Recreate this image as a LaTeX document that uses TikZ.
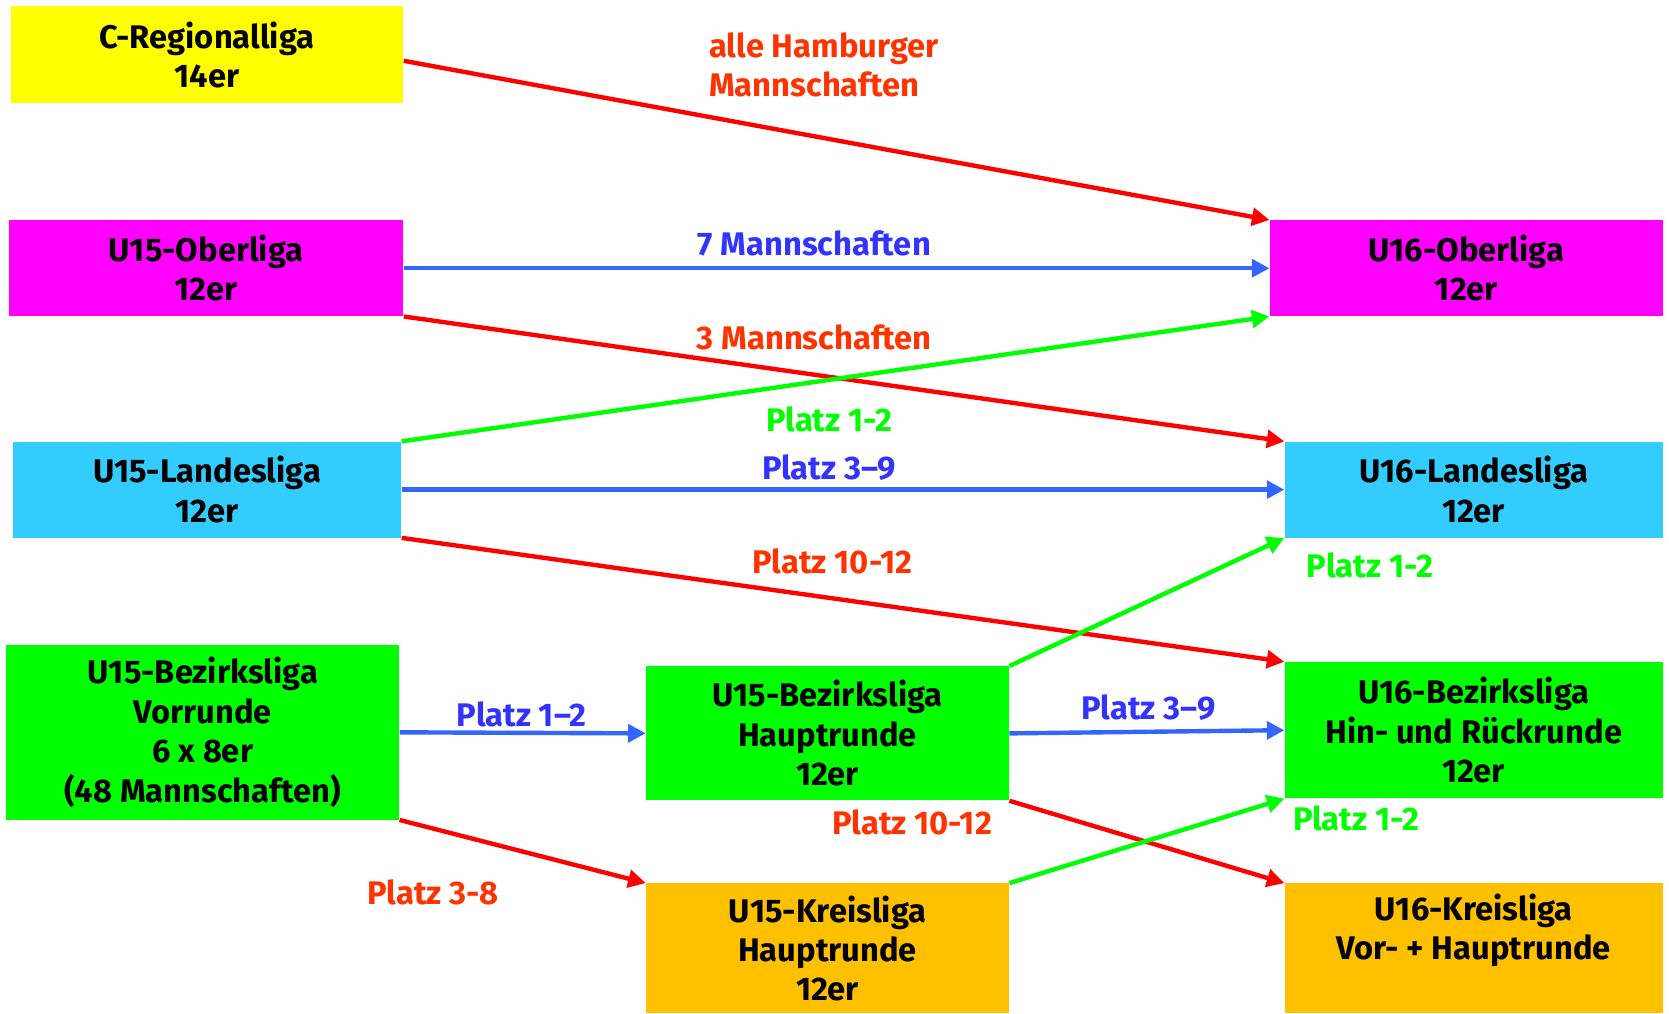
\documentclass[tikz,border=0pt]{standalone}
\usepackage{fontspec}
\setmainfont{Fira Sans}
\usetikzlibrary{arrows.meta}

\definecolor{gelb}{HTML}{FFFF00}
\definecolor{magenta}{HTML}{FF00FF}
\definecolor{himmel}{HTML}{33CCFF}
\definecolor{gruen}{HTML}{00FF00}
\definecolor{orange}{HTML}{FFC000}
\definecolor{rotpfeil}{HTML}{FF0000}
\definecolor{rottext}{HTML}{FF3300}
\definecolor{blaupfeil}{HTML}{3366FF}
\definecolor{blautext}{HTML}{3333FF}

\begin{document}
\begin{tikzpicture}[x=0.021288cm,y=-0.021288cm]
 \tikzset{liga/.style={
    fill=#1,
    font=\bfseries\fontsize{18.6}{22.4}\selectfont,
    align=center,
    anchor=center,
    inner sep=0pt
  },
  liga/.default=gruen,
  groesse/.style 2 args={minimum width=#1*0.021288cm, minimum height=#2*0.021288cm},
  pfeil/.style={draw=#1, line width=2.5pt, -{Triangle[length=10pt,width=10pt]}},
  marke/.style={
    text=#1,
    font=\bfseries\fontsize{18.6}{22.4}\selectfont,
    align=center,
    inner sep=0pt
  }
}
\useasboundingbox (0,0) rectangle (1568,952);

% U15 / C-Jugend
\node[liga=gelb, groesse={369}{91}] (creg) at (194.5,51.5) {C-Regionalliga\\14er};
\node[liga=magenta, groesse={371}{90}] (ob15) at (193.5,252) {U15-Oberliga\\12er};
\node[liga=himmel, groesse={365}{90}] (la15) at (194.5,460) {U15-Landesliga\\12er};
\node[liga, groesse={369}{164}] (bzv15) at (190.5,688) {U15-Bezirksliga\\Vorrunde\\6 x 8er\\(48 Mannschaften)};
\node[liga, groesse={341}{126}] (bzh15) at (777.5,689) {U15-Bezirksliga\\Hauptrunde\\12er};
\node[liga=orange, groesse={341}{122}] (kr15) at (777.5,891) {U15-Kreisliga\\Hauptrunde\\12er};

% U16
\node[liga=magenta, groesse={369}{90}] (ob16) at (1377.5,252) {U16-Oberliga\\12er};
\node[liga=himmel, groesse={355}{90}] (la16) at (1384.5,460) {U16-Landesliga\\12er};
\node[liga, groesse={355}{128}] (bz16) at (1384.5,686) {U16-Bezirksliga\\Hin- und Rückrunde\\12er};
\node[liga=orange, groesse={355}{122}] (kr16) at (1384.5,891) {U16-Kreisliga\\Vor- + Hauptrunde\\[-4.4pt]\strut};

% Pfeile
\draw[pfeil=rotpfeil] ([yshift=-0.12cm]creg.east) -- (ob16.north west);
\draw[pfeil=blaupfeil] (ob15.east) -- (ob16.west);
\draw[pfeil=rotpfeil] (ob15.south east) -- (la16.north west);
\draw[pfeil=gruen] (la15.north east) -- (ob16.south west);
\draw[pfeil=blaupfeil] (la15.east) -- (la16.west);
\draw[pfeil=rotpfeil] (la15.south east) -- (bz16.north west);
\draw[pfeil=blaupfeil] (bzv15.east) -- (bzh15.west);
\draw[pfeil=rotpfeil] (bzv15.south east) -- (kr15.north west);
\draw[pfeil=gruen] (bzh15.north east) -- (la16.south west);
\draw[pfeil=blaupfeil] (bzh15.east) -- (bz16.west);
\draw[pfeil=rotpfeil] (bzh15.south east) -- (kr16.north west);
\draw[pfeil=gruen] (kr15.north east) -- (bz16.south west);

% Beschriftungen
\node[marke=rottext, align=left, anchor=west] (mHam) at (666,61) {alle Hamburger\\Mannschaften};
\node[marke=blautext] (m7) at (765,229) {7 Mannschaften};
\node[marke=rottext] (m3) at (765,317) {3 Mannschaften};
\node[marke=gruen] (mla12) at (779,394) {Platz 1-2};
\node[marke=blautext] (mla39) at (779,439) {Platz 3–9};
\node[marke=rottext] (mla1012) at (782,527) {Platz 10-12};
\node[marke=gruen] (mbz12) at (1287,531) {Platz 1-2};
\node[marke=blautext] (mv12) at (490,671) {Platz 1–2};
\node[marke=blautext] (mbz39) at (1079,665) {Platz 3–9};
\node[marke=rottext] (mbz1012) at (857,773) {Platz 10-12};
\node[marke=rottext] (mv38) at (407,838) {Platz 3-8};
\node[marke=gruen] (mkr12) at (1274,769) {Platz 1-2};
\end{tikzpicture}
\end{document}
